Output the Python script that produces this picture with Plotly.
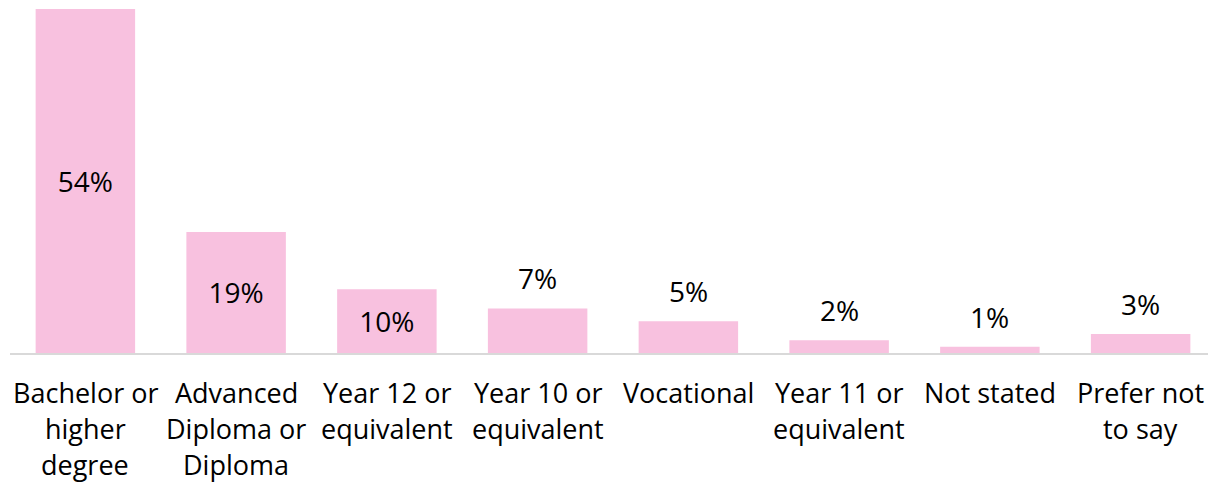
import plotly.graph_objects as go

categories = ["Bachelor or higher degree", "Advanced Diploma or Diploma", "Year 12 or equivalent",
              "Year 10 or equivalent", "Vocational", "Year 11 or equivalent", "Not stated", "Prefer not to say"]
tick_lines = [["Bachelor or", "higher", "degree"],
              ["Advanced", "Diploma or", "Diploma"],
              ["Year 12 or", "equivalent"],
              ["Year 10 or", "equivalent"],
              ["Vocational"],
              ["Year 11 or", "equivalent"],
              ["Not stated"],
              ["Prefer not", "to say"]]
values = [54, 19, 10, 7, 5, 2, 1, 3]
labels = [f"{v}%" for v in values]

FONT = "Open Sans, Noto Sans, sans-serif"
inside = [v >= 10 for v in values]

fig = go.Figure()
fig.add_trace(go.Bar(
    x=categories, y=values,
    marker=dict(color="#F8C1DF", line=dict(width=0)),
    text=[l if ins else "" for l, ins in zip(labels, inside)],
    textposition="inside", insidetextanchor="middle",
    textfont=dict(family=FONT, size=28, color="#000000"),
    hoverinfo="skip",
))

annotations = []
for c, v, l, ins in zip(categories, values, labels, inside):
    if not ins:
        annotations.append(dict(x=c, y=v, xref="x", yref="y", text=l, showarrow=False,
                                yanchor="bottom", yshift=9,
                                font=dict(family=FONT, size=28, color="#000000")))
for c, lines in zip(categories, tick_lines):
    for i, line in enumerate(lines):
        annotations.append(dict(x=c, y=0, xref="x", yref="y", text=line, showarrow=False,
                                yanchor="middle", yshift=-(39 + 36 * i),
                                font=dict(family=FONT, size=27, color="#000000")))

fig.update_layout(
    width=1208, height=474,
    margin=dict(l=2, r=0, t=1, b=129),
    plot_bgcolor="white", paper_bgcolor="white",
    bargap=0.34, showlegend=False,
    annotations=annotations,
    xaxis=dict(showticklabels=False, showline=True, linecolor="#D9D9D9", linewidth=2,
               ticks="", showgrid=False, zeroline=False),
    yaxis=dict(range=[0, 54], visible=False, showgrid=False, zeroline=False),
)
fig.write_html("out.html")
